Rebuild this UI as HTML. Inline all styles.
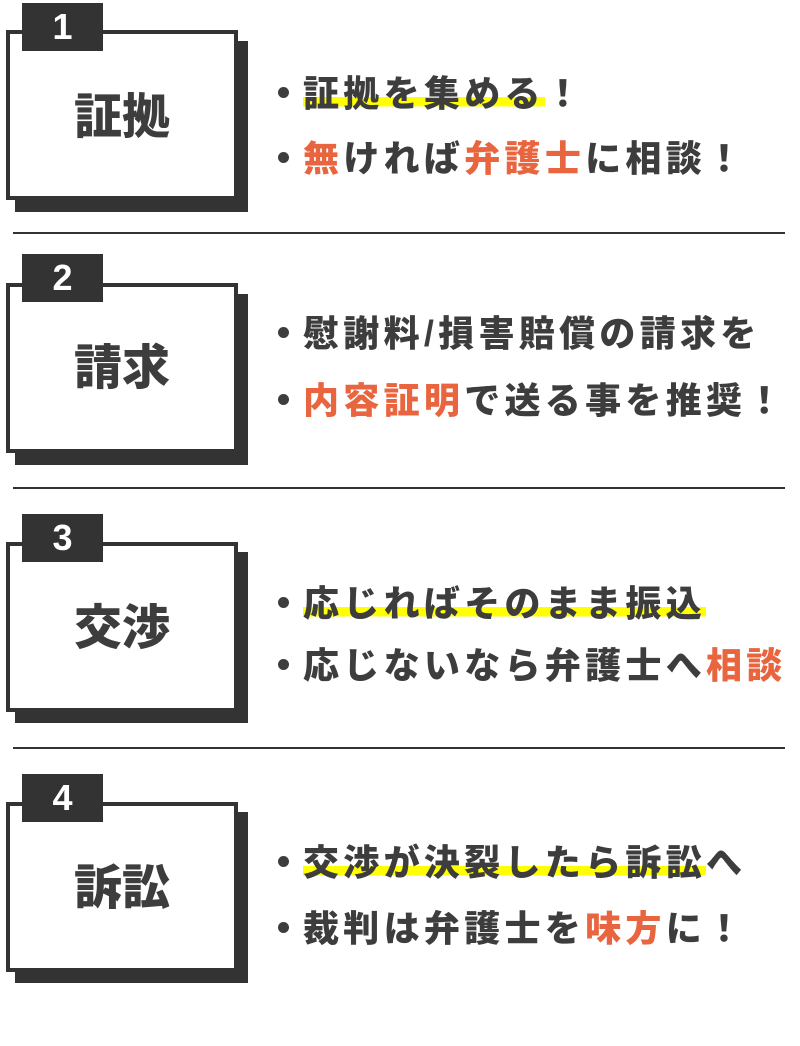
<!DOCTYPE html>
<html><head><meta charset="utf-8"><style>
html,body{margin:0;padding:0;background:#fff;}
body{width:800px;height:1046px;position:relative;overflow:hidden;font-family:"Liberation Sans","Noto Sans CJK JP",sans-serif;font-weight:900;color:#3d3d3d;}
.sh{position:absolute;background:#333;width:233px;height:171px;}
.box{position:absolute;left:6px;width:224px;height:162px;border:4px solid #333;background:#fff;}
.tab{position:absolute;left:22px;width:81px;height:48px;background:#333;color:#fff;font-size:36px;text-align:center;line-height:48px;font-family:"Liberation Sans",sans-serif;font-weight:700;}
.lbl{position:absolute;left:6px;width:232px;text-align:center;font-size:48px;line-height:60px;}
.hr{position:absolute;left:13px;width:772px;height:2px;background:#333;}
.ln{position:absolute;left:278px;font-size:36px;line-height:46px;letter-spacing:4.3px;white-space:nowrap;}
.ln:before{content:"";display:inline-block;width:11px;height:11px;border-radius:50%;background:#3d3d3d;margin:0 14px 8px 0;vertical-align:middle;}
.o{color:#e8653f;}
.hl{background:linear-gradient(transparent 58%,#ffff00 58%,#ffff00 82%,transparent 82%);}
</style></head><body>

<div class="sh" style="left:15px;top:41px"></div>
<div class="box" style="top:30px"></div>
<div class="tab" style="top:3px">1</div>
<div class="lbl" style="top:88px">証拠</div>
<div class="ln" style="top:71px"><span class="hl">証拠を集める</span>！</div>
<div class="ln" style="top:136px"><span class="o">無</span>ければ<span class="o">弁護士</span>に相談！</div>
<div class="hr" style="top:232px"></div>

<div class="sh" style="left:15px;top:294px"></div>
<div class="box" style="top:283px"></div>
<div class="tab" style="top:254px">2</div>
<div class="lbl" style="top:339px">請求</div>
<div class="ln" style="top:311px">慰謝料/損害賠償の請求を</div>
<div class="ln" style="top:378px"><span class="o">内容証明</span>で送る事を推奨！</div>
<div class="hr" style="top:487px"></div>

<div class="sh" style="left:15px;top:552px"></div>
<div class="box" style="top:542px"></div>
<div class="tab" style="top:514px">3</div>
<div class="lbl" style="top:599px">交渉</div>
<div class="ln" style="top:581px"><span class="hl">応じればそのまま振込</span></div>
<div class="ln" style="top:643px">応じないなら弁護士へ<span class="o">相談</span></div>
<div class="hr" style="top:747px"></div>

<div class="sh" style="left:15px;top:812px"></div>
<div class="box" style="top:802px"></div>
<div class="tab" style="top:774px">4</div>
<div class="lbl" style="top:859px">訴訟</div>
<div class="ln" style="top:840px"><span class="hl">交渉が決裂したら訴訟</span>へ</div>
<div class="ln" style="top:906px">裁判は弁護士を<span class="o">味方</span>に！</div>

</body></html>
